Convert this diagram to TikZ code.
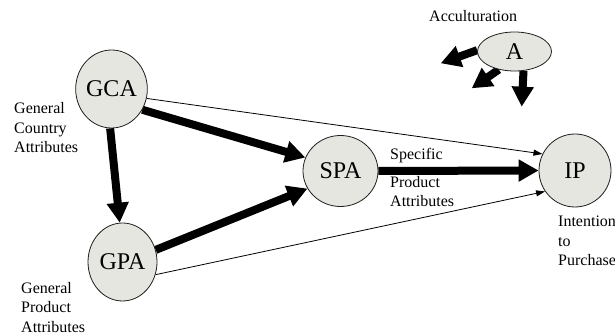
\documentclass[tikz,border=0pt]{standalone}
\usepackage{fontspec}
\setmainfont{Liberation Serif}
\usetikzlibrary{shapes.geometric,arrows.meta,backgrounds}
\definecolor{nodefill}{RGB}{230,230,225}
\definecolor{edgeline}{RGB}{30,30,30}
\begin{document}
\begin{tikzpicture}[x=1pt,y=-1pt,
  var/.style={ellipse,draw=edgeline,line width=0.8pt,fill=nodefill,inner sep=0pt,font=\fontsize{24}{28}\selectfont},
  lbl/.style={anchor=base west,inner sep=0pt,align=left,font=\fontsize{16}{19.5}\selectfont},
  strong/.style={line width=8pt,-{Triangle[length=20pt,width=21pt]}},
  weak/.style={line width=0.8pt,-{Triangle[length=9pt,width=6pt]}}]
\useasboundingbox (0,0) rectangle (615,336);
\node[var,minimum width=69pt,minimum height=78pt] (GCA) at (111.5,89) {GCA};
\node[var,minimum width=69pt,minimum height=78pt] (GPA) at (122.5,262) {GPA};
\node[var,minimum width=75pt,minimum height=71pt] (SPA) at (340.5,171) {SPA};
\node[var,minimum width=72pt,minimum height=73pt] (IP) at (575,170.5) {IP};
\node[var,minimum width=74pt,minimum height=39pt] (A) at (514.5,51.5) {A};
\coordinate (a1) at (440.7,63.3);
\coordinate (a2) at (471.7,88.3);
\coordinate (a3) at (521.7,106.7);
\node[lbl] (acc) at (429,22) {Acculturation};
\node[lbl] (gcal) at (14,153) {General\\Country\\Attributes};
\node[lbl] (gpal) at (21,332) {General\\Product\\Attributes};
\node[lbl] (spal1) at (390,160) {Specific};
\node[lbl] (spal2) at (390,207) {Product\\Attributes};
\node[lbl] (ipl) at (558,266) {Intention\\to\\Purchase};
\begin{scope}[on background layer]
\draw[strong] (GCA.-34) -- (SPA.159);
\draw[strong] (GCA.-92) -- (GPA.94);
\draw[strong] (GPA.20) -- (SPA.208);
\draw[strong] (SPA.east) -- (IP.west);
\draw[weak] (GCA.-15) -- (IP.153);
\draw[weak] (GPA.-21) -- (IP.215);
\draw[strong] (A.178) -- (a1);
\draw[strong] (A.229) -- (a2);
\draw[strong] (A.-65) -- (a3);
\end{scope}
\end{tikzpicture}
\end{document}
